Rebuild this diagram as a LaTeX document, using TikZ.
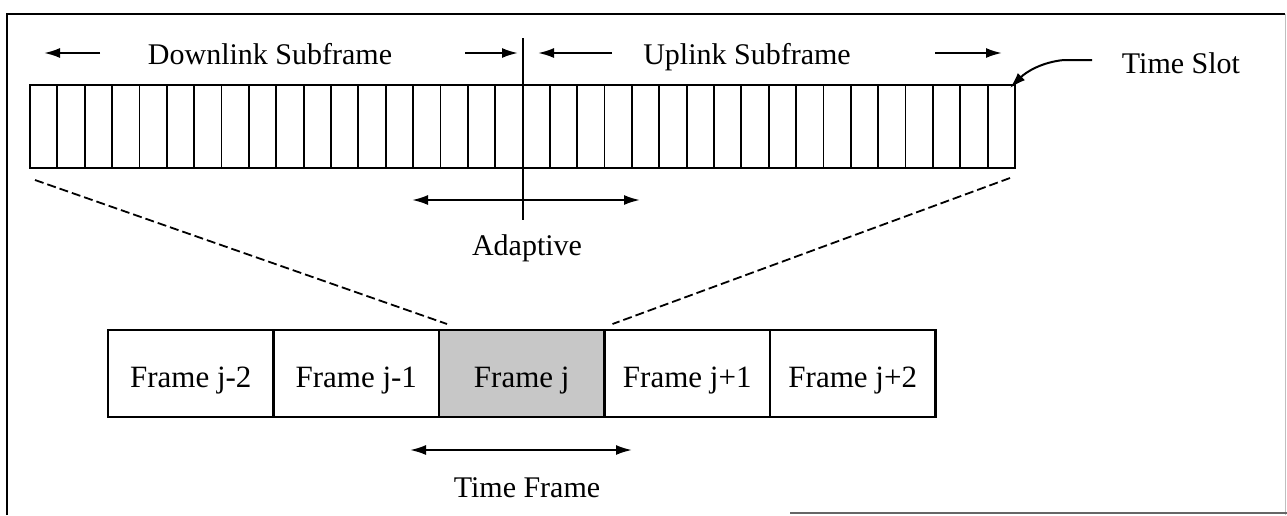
\documentclass[tikz,border=0pt]{standalone}
\usepackage{fontspec}
\setmainfont{Liberation Serif}
\usetikzlibrary{arrows.meta,calc}
\begin{document}
\begin{tikzpicture}[x=1pt,y=-1pt,
  lbl/.style={font=\fontsize{30}{32}\selectfont, inner sep=0pt, anchor=base},
  framebox/.style={draw, line width=2.4pt, minimum width=165.5pt, minimum height=87pt,
    anchor=north west, inner sep=0pt, outer sep=0pt},
  framelbl/.style={font=\fontsize{31}{33}\selectfont, inner sep=0pt, anchor=base},
  tipline/.style={-{Latex[length=16pt,width=10pt]}, line width=2pt},
  bothline/.style={{Latex[length=16pt,width=10pt]}-{Latex[length=16pt,width=10pt]}, line width=2pt},
  slotline/.style={line width=1.8pt},
  zoomline/.style={line width=1.8pt, dash pattern=on 9pt off 4pt}
]
\useasboundingbox (0,0) rectangle (1287,515);

% outer frame
\draw[line width=2.2pt] (7,515) -- (7,14) -- (1285,14);
\draw[line width=1pt, black!25] (1285,14) -- (1285,515);
\draw[line width=1.6pt, black!60] (790,513) -- (1287,513);

% slot strip
\node[draw, line width=2.2pt, minimum width=985pt, minimum height=83pt,
      anchor=north west, inner sep=0pt, outer sep=0pt] (strip) at (30,85) {};
\foreach \i in {1,...,35}{
  \ifnum\i=18\else
    \draw[slotline] ($(strip.north west)!\i/36!(strip.north east)$) --
                    ($(strip.south west)!\i/36!(strip.south east)$);
  \fi
}

% downlink / uplink boundary
\coordinate (divtop) at (522.5,38);
\coordinate (divbot) at (522.5,220);
\draw[line width=2pt] (divtop) -- (divbot);

% subframe labels and arrows
\node[lbl] (dl) at (270,64) {Downlink Subframe};
\node[lbl] (ul) at (747,64) {Uplink Subframe};
\coordinate (dlA) at (100,53); \coordinate (dlAt) at (44,53);
\coordinate (dlB) at (465,53); \coordinate (dlBt) at (518,53);
\coordinate (ulA) at (612,53); \coordinate (ulAt) at (538,53);
\coordinate (ulB) at (935,53); \coordinate (ulBt) at (1002,53);
\draw[tipline] (dlA) -- (dlAt);
\draw[tipline] (dlB) -- (dlBt);
\draw[tipline] (ulA) -- (ulAt);
\draw[tipline] (ulB) -- (ulBt);

% time slot callout
\node[lbl] (ts) at (1181,73) {Time Slot};
\coordinate (tsA) at (1092,60);
\coordinate (tsB) at (1010,88);
\draw[tipline] (tsA) -- (1064,60) .. controls (1042,62) and (1026,72) .. (tsB);

% adaptive boundary
\coordinate (adL) at (412,200);
\coordinate (adR) at (640,200);
\draw[bothline] (adL) -- (adR);
\node[lbl] (adapt) at (527,255) {Adaptive};

% frame sequence
\node[framebox] (f1) at (108,330) {};
\node[framebox] (f2) at (f1.north east) {};
\node[framebox, fill=black!22] (f3) at (f2.north east) {};
\node[framebox] (f4) at (f3.north east) {};
\node[framebox] (f5) at (f4.north east) {};
\node[framelbl] at ($(f1.center)+(0,14)$) {Frame j-2};
\node[framelbl] at ($(f2.center)+(0,14)$) {Frame j-1};
\node[framelbl] at ($(f3.center)+(0,14)$) {Frame j};
\node[framelbl] at ($(f4.center)+(0,14)$) {Frame j+1};
\node[framelbl] at ($(f5.center)+(0,14)$) {Frame j+2};

% zoom lines from the strip to frame j
\draw[zoomline] ($(strip.south west)+(5,12)$) -- ($(f3.north west)+(8,-6)$);
\draw[zoomline] ($(strip.south east)+(-5,10)$) -- ($(f3.north east)+(8,-6)$);

% time frame span
\coordinate (tfL) at (410,450);
\coordinate (tfR) at (632,450);
\draw[bothline] (tfL) -- (tfR);
\node[lbl] (tf) at (527,497) {Time Frame};
\end{tikzpicture}
\end{document}
